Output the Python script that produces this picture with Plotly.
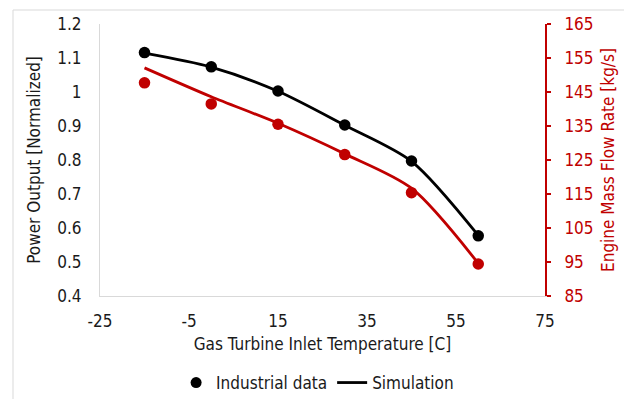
import plotly.graph_objects as go

# Inlet temperature [C]
temps = [-15, 0, 15, 30, 45, 60]

# Normalized power output
power_measured = [1.116, 1.074, 1.003, 0.903, 0.797, 0.577]
power_simulated = [1.114, 1.073, 1.002, 0.902, 0.796, 0.578]

# Engine mass flow rate [kg/s]
flow_measured = [147.7, 141.5, 135.5, 126.6, 115.4, 94.4]
flow_simulated = [152.1, 143.6, 135.8, 126.8, 116.7, 94.6]

x_ticks = [-25, -5, 15, 35, 55, 75]
x_ticktext = ["-25", "-5", "15", "35", "55", "75"]
left_ticks = [0.4, 0.5, 0.6, 0.7, 0.8, 0.9, 1.0, 1.1, 1.2]
left_ticktext = ["0.4", "0.5", "0.6", "0.7", "0.8", "0.9", "1", "1.1", "1.2"]
right_ticks = [85, 95, 105, 115, 125, 135, 145, 155, 165]

RED = "#C00000"
BLACK = "#000000"
TEXT = "#1a1a1a"
FONT = "DejaVu Sans Condensed, Roboto, sans-serif"
FS = 17

fig = go.Figure()

fig.add_trace(go.Scatter(x=temps, y=power_simulated, mode="lines",
                         line=dict(color=BLACK, width=2.8, shape="spline", smoothing=0.8),
                         showlegend=False))
fig.add_trace(go.Scatter(x=temps, y=power_measured, mode="markers",
                         marker=dict(color=BLACK, size=11.5), showlegend=False))
fig.add_trace(go.Scatter(x=temps, y=flow_simulated, mode="lines", yaxis="y2",
                         line=dict(color=RED, width=2.8, shape="spline", smoothing=0.8),
                         showlegend=False))
fig.add_trace(go.Scatter(x=temps, y=flow_measured, mode="markers", yaxis="y2",
                         marker=dict(color=RED, size=11.5), showlegend=False))

# legend keys
fig.add_trace(go.Scatter(x=[None], y=[None], mode="markers", name="Industrial data",
                         marker=dict(color=BLACK, size=11)))
fig.add_trace(go.Scatter(x=[None], y=[None], mode="lines", name="Simulation",
                         line=dict(color=BLACK, width=2.8)))

fig.update_layout(
    width=624, height=399,
    margin=dict(l=100, r=79, t=24, b=103),
    paper_bgcolor="white", plot_bgcolor="white",
    font=dict(family=FONT, size=FS, color=TEXT),
    xaxis=dict(range=[-25, 75], tickvals=x_ticks, ticktext=x_ticktext,
               showgrid=False, zeroline=False, automargin=False,
               showline=True, linecolor="#D9D9D9", linewidth=1, ticks="",
               ticklabelstandoff=10,
               title=dict(text="Gas Turbine Inlet Temperature [C]", standoff=7,
                          font=dict(size=FS, color=TEXT))),
    yaxis=dict(range=[0.4, 1.2], tickvals=left_ticks, ticktext=left_ticktext,
               showgrid=False, zeroline=False, automargin=False,
               showline=True, linecolor="#D9D9D9", linewidth=1, ticks="",
               ticklabelstandoff=14,
               title=dict(text="Power Output [Normalized]", standoff=12,
                          font=dict(size=FS, color=TEXT))),
    yaxis2=dict(range=[85, 165], tickvals=right_ticks, overlaying="y", side="right",
                showgrid=False, zeroline=False, automargin=False,
                showline=True, linecolor=RED, linewidth=2,
                ticks="outside", ticklen=4, tickwidth=2, tickcolor=RED,
                ticklabelstandoff=10,
                tickfont=dict(color=RED),
                title=dict(text="Engine Mass Flow Rate [kg/s]", standoff=10,
                           font=dict(size=FS, color=RED))),
    legend=dict(orientation="h", x=0.489, xanchor="center",
                yref="container", y=1 - 383 / 399, yanchor="middle",
                font=dict(size=FS, color=TEXT), itemwidth=30, bgcolor="rgba(0,0,0,0)"),
    shapes=[dict(type="rect", xref="paper", yref="paper",
                 x0=(13 - 100) / 445, x1=(700 - 100) / 445,
                 y0=(296 - 500) / 272, y1=1 + (24 - 10) / 272,
                 line=dict(color="#D9D9D9", width=1), layer="below")],
)

fig.write_html("out.html")
